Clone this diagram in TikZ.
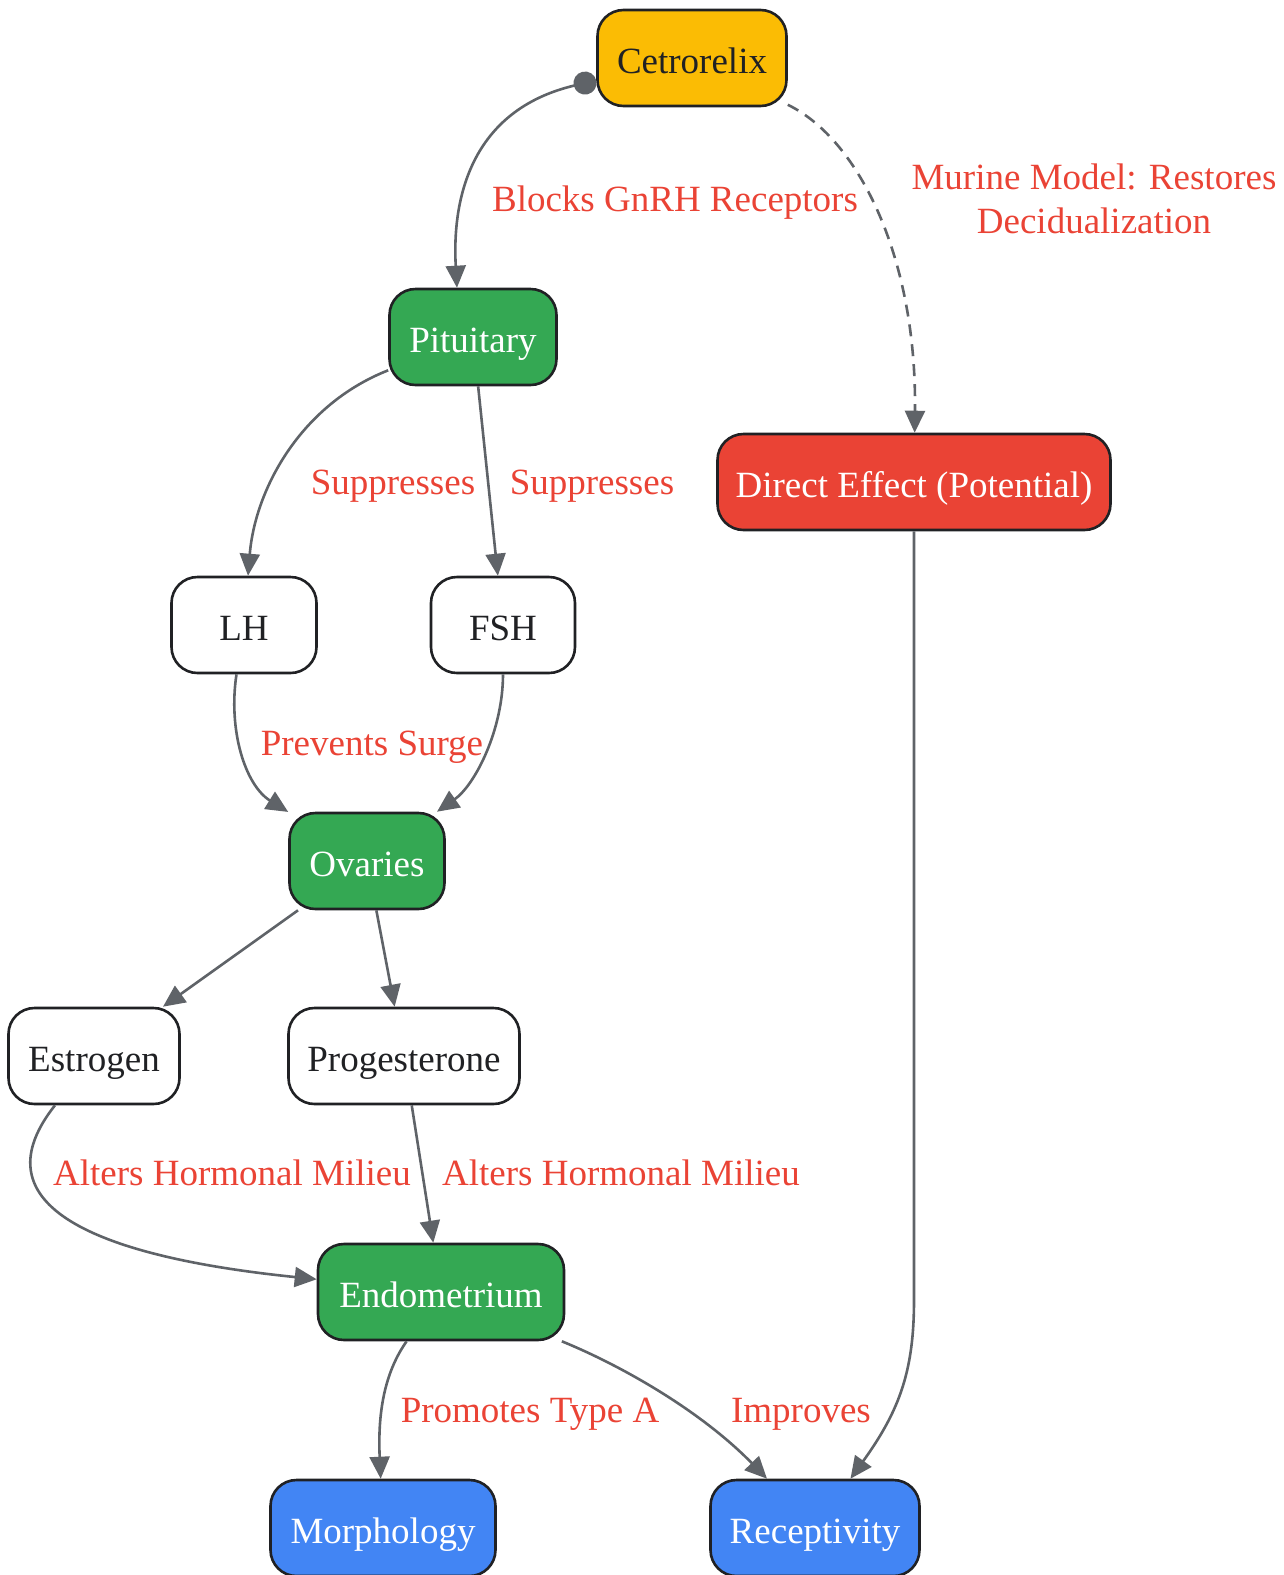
\documentclass[tikz,border=0pt]{standalone}
\usepackage{fontspec}
\setmainfont{Liberation Serif}
\usetikzlibrary{arrows.meta}

\definecolor{ink}{HTML}{202124}
\definecolor{wire}{HTML}{5F6368}
\definecolor{gyellow}{HTML}{FBBC04}
\definecolor{ggreen}{HTML}{34A853}
\definecolor{gred}{HTML}{EA4335}
\definecolor{gblue}{HTML}{4285F4}

\tikzset{
  box/.style={draw=ink, line width=1.3pt, rounded corners=13pt, minimum height=48pt,
    inner sep=0pt, text height=15pt, text depth=0pt, text=ink, fill=white,
    font=\fontsize{18.5}{22}\selectfont},
  drugbox/.style={box, fill=gyellow},
  organbox/.style={box, fill=ggreen, text=white},
  effectbox/.style={box, fill=gred, text=white},
  outcomebox/.style={box, fill=gblue, text=white},
  edge/.style={draw=wire, line width=1.3pt, -{Triangle[length=11pt,width=10pt]}},
  lbl/.style={text=gred, align=center, inner sep=0pt, font=\fontsize{18.5}{22}\selectfont},
  lblline/.style={lbl, text height=12.6pt, text depth=0pt},
}

\begin{document}
\begin{tikzpicture}[x=0.5pt, y=-0.5pt]
  \useasboundingbox (0,0) rectangle (1284,1575);

  % nodes
  \node [drugbox, minimum width=94.5pt] (cet) at (692,58) {Cetrorelix};
  \node [organbox, minimum width=83.5pt] (pit) at (473,337) {Pituitary};
  \node [effectbox, minimum width=196.5pt] (dir) at (914,482) {Direct Effect (Potential)};
  \node [box, minimum width=72.5pt] (lh) at (244,625) {LH};
  \node [box, minimum width=72pt] (fsh) at (503,625) {FSH};
  \node [organbox, minimum width=77.5pt] (ova) at (367,861) {Ovaries};
  \node [box, minimum width=85.5pt] (est) at (94,1056) {Estrogen};
  \node [box, minimum width=115.5pt] (prog) at (404,1056) {Progesterone};
  \node [organbox, minimum width=123pt] (endo) at (441,1292) {Endometrium};
  \node [outcomebox, minimum width=112.5pt] (morph) at (383,1528) {Morphology};
  \node [outcomebox, minimum width=104.5pt] (recep) at (815,1528) {Receptivity};

  % connectors
  \draw [edge, {Circle[length=11.5pt]}-{Triangle[length=11pt,width=10pt]}]
    (cet) .. controls (470,110) and (452,200) .. (pit.108);
  \draw [edge, dashed, dash pattern=on 6pt off 4pt]
    (cet) .. controls (860,140) and (917,260) .. (dir);
  \draw [edge] (pit) .. controls (300,405) and (255,490) .. (lh);
  \draw [edge] (pit) -- (fsh);
  \draw [edge] (lh) .. controls (228,730) and (245,785) .. (ova);
  \draw [edge] (fsh) .. controls (503,730) and (475,785) .. (ova);
  \draw [edge] (ova) -- (est);
  \draw [edge] (ova) -- (prog);
  \draw [edge] (est) .. controls (-20,1200) and (80,1255) .. (endo);
  \draw [edge] (prog) -- (endo);
  \draw [edge] (endo) .. controls (390,1365) and (377,1400) .. (morph);
  \draw [edge] (endo) .. controls (620,1365) and (700,1410) .. (recep);
  \coordinate (bend) at (914,1300);
  \draw [edge] (dir) -- (bend) .. controls (914,1370) and (900,1410) .. (recep);

  % labels
  \node [lblline] (lblBlocks) at (675,199) {Blocks GnRH Receptors};
  \node [lbl] (lblMurine) at (1094,199) {Murine Model: Restores\\Decidualization};
  \node [lblline] (lblSupLH) at (393,482) {Suppresses};
  \node [lblline] (lblSupFSH) at (592,482) {Suppresses};
  \node [lblline] (lblSurge) at (372,743) {Prevents Surge};
  \node [lblline] (lblAltEst) at (232,1173) {Alters Hormonal Milieu};
  \node [lblline] (lblAltProg) at (621,1173) {Alters Hormonal Milieu};
  \node [lblline] (lblType) at (530,1410) {Promotes Type A};
  \node [lblline] (lblImp) at (801,1410) {Improves};
\end{tikzpicture}
\end{document}
